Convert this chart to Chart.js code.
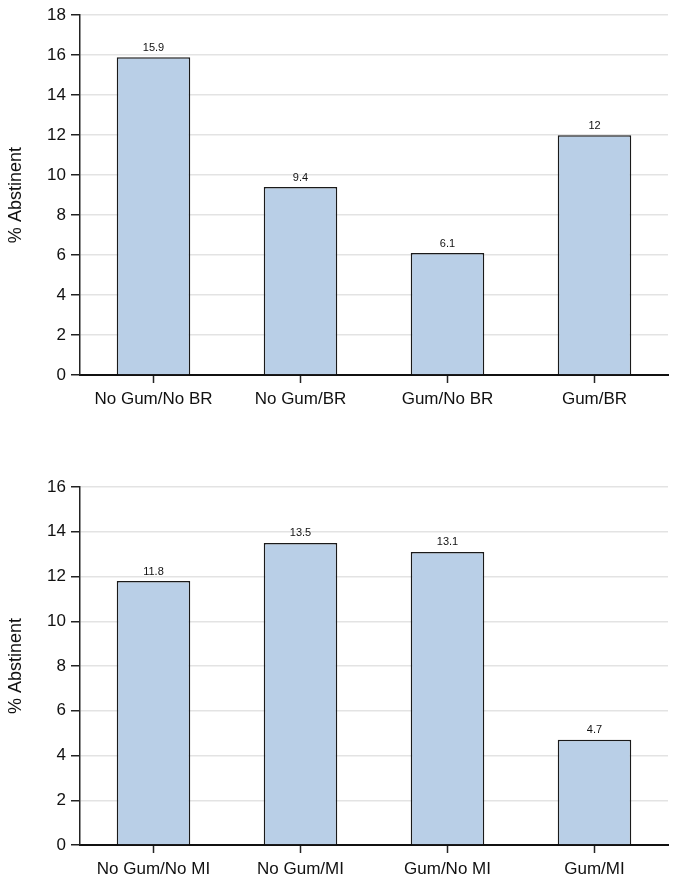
<!DOCTYPE html>
<html>
<head>
<meta charset="utf-8">
<script src="https://cdn.jsdelivr.net/npm/chart.js@4/dist/chart.umd.min.js"></script>
<style>
    html, body { margin: 0; padding: 0; background: #fff; }
    .wrap { position: absolute; left: 0; width: 674px; }
    #top-wrap { top: 0; height: 430px; }
    #bottom-wrap { top: 440px; height: 440px; }
</style>
</head>
<body>
<div class="wrap" id="top-wrap"><canvas id="top-chart" width="674" height="430"></canvas></div>
<div class="wrap" id="bottom-wrap"><canvas id="bottom-chart" width="674" height="440"></canvas></div>
<script>
// Data
const topLabels = ['No Gum/No BR', 'No Gum/BR', 'Gum/No BR', 'Gum/BR'];
const topValues = [15.9, 9.4, 6.1, 12];
const bottomLabels = ['No Gum/No MI', 'No Gum/MI', 'Gum/No MI', 'Gum/MI'];
const bottomValues = [11.8, 13.5, 13.1, 4.7];
const topMax = 18;
const bottomMax = 16;

const FONT = '"Liberation Sans", Arial, sans-serif';

// Draw value above each bar
const valueLabels = {
    id: 'valueLabels',
    afterDatasetsDraw(chart) {
        const ctx = chart.ctx;
        const meta = chart.getDatasetMeta(0);
        const values = chart.data.datasets[0].data;
        ctx.save();
        ctx.font = '11px ' + FONT;
        ctx.fillStyle = '#111';
        ctx.textAlign = 'center';
        ctx.textBaseline = 'bottom';
        meta.data.forEach((bar, i) => {
            ctx.fillText(String(values[i]), bar.x, bar.y - 4);
        });
        ctx.restore();
    }
};

function makeChart(canvasId, labels, values, yMax, padTop, xHeight) {
    const ctx = document.getElementById(canvasId).getContext('2d');
    return new Chart(ctx, {
        type: 'bar',
        data: {
            labels: labels,
            datasets: [{
                data: values,
                backgroundColor: '#b9cfe7',
                borderColor: '#1a1a1a',
                borderWidth: 1.5,
                barPercentage: 0.5,
                categoryPercentage: 1.0
            }]
        },
        options: {
            responsive: false,
            animation: false,
            layout: { padding: { top: padTop, right: 6, left: 0, bottom: 0 } },
            plugins: {
                legend: { display: false },
                tooltip: { enabled: false }
            },
            scales: {
                x: {
                    grid: {
                        offset: false,
                        drawOnChartArea: false,
                        tickLength: 8,
                        tickColor: '#222',
                        tickWidth: 1.5
                    },
                    border: { color: '#111', width: 2 },
                    ticks: {
                        color: '#111',
                        padding: 6,
                        maxRotation: 0,
                        font: { family: FONT, size: 17 }
                    },
                    afterFit: (scale) => { scale.height = xHeight; }
                },
                y: {
                    min: 0,
                    max: yMax,
                    grid: {
                        color: '#e3e3e3',
                        lineWidth: 1.5,
                        tickLength: 9,
                        tickColor: '#222',
                        tickWidth: 1.5
                    },
                    border: { color: '#222', width: 1.5 },
                    ticks: {
                        stepSize: 2,
                        color: '#111',
                        padding: 5,
                        font: { family: FONT, size: 17 }
                    },
                    title: {
                        display: true,
                        text: '% Abstinent',
                        color: '#111',
                        font: { family: FONT, size: 18 },
                        padding: { top: 5, bottom: 4 }
                    },
                    afterFit: (scale) => { scale.width = 80; }
                }
            }
        },
        plugins: [valueLabels]
    });
}

makeChart('top-chart', topLabels, topValues, topMax, 13, 55);
makeChart('bottom-chart', bottomLabels, bottomValues, bottomMax, 47, 35);
</script>
</body>
</html>
